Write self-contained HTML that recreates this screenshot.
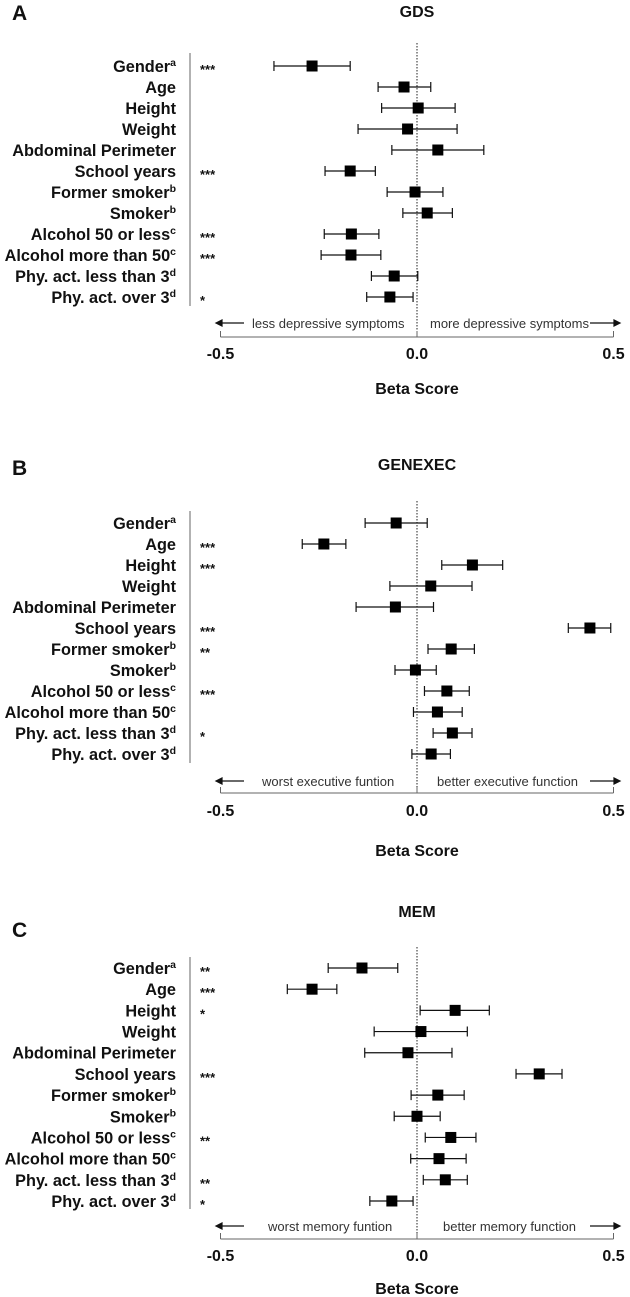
<!DOCTYPE html>
<html><head><meta charset="utf-8">
<style>
html,body{margin:0;padding:0;background:#fff;}
svg{display:block;font-family:"Liberation Sans",Arial,sans-serif;}
</style></head>
<body>
<svg id="fig" width="630" height="1297" viewBox="0 0 630 1297"></svg>
<script>
const categories = ["Gender","Age","Height","Weight","Abdominal Perimeter","School years","Former smoker","Smoker","Alcohol 50 or less","Alcohol more than 50","Phy. act. less than 3","Phy. act. over 3"];
const superscripts = ["a","","","","","","b","b","c","c","d","d"];
const tickValues = [-0.5, 0, 0.5];
const tickLabels = ["-0.5","0.0","0.5"];

const gdsBeta = [-0.267,-0.033,0.003,-0.024,0.053,-0.17,-0.005,0.026,-0.167,-0.168,-0.058,-0.069];
const gdsLow  = [-0.364,-0.099,-0.09,-0.15,-0.064,-0.234,-0.076,-0.036,-0.236,-0.244,-0.116,-0.128];
const gdsHigh = [-0.17,0.035,0.097,0.102,0.17,-0.106,0.066,0.09,-0.097,-0.092,0.002,-0.01];
const gdsStars = ["***","","","","","***","","","***","***","","*"];

const exeBeta = [-0.053,-0.237,0.141,0.035,-0.055,0.44,0.087,-0.004,0.076,0.052,0.09,0.036];
const exeLow  = [-0.132,-0.292,0.063,-0.069,-0.155,0.385,0.028,-0.056,0.019,-0.009,0.041,-0.013];
const exeHigh = [0.026,-0.181,0.218,0.14,0.042,0.493,0.146,0.049,0.133,0.115,0.14,0.085];
const exeStars = ["","***","***","","","***","**","","***","","*",""];

const memBeta = [-0.14,-0.267,0.097,0.01,-0.023,0.311,0.053,0,0.086,0.056,0.072,-0.064];
const memLow  = [-0.226,-0.33,0.008,-0.109,-0.133,0.252,-0.015,-0.058,0.021,-0.016,0.016,-0.12];
const memHigh = [-0.049,-0.204,0.184,0.128,0.089,0.369,0.12,0.059,0.15,0.125,0.128,-0.01];
const memStars = ["**","***","*","","","***","","","**","","**","*"];

const NS="http://www.w3.org/2000/svg";
const svg=document.getElementById('fig');
function mk(tag,attrs,parent){const e=document.createElementNS(NS,tag);for(const k in attrs)e.setAttribute(k,attrs[k]);(parent||svg).appendChild(e);return e;}
function xScale(v){return 417 + v*393;}

const panels=[
 {key:"gds",letter:"A",title:"GDS",beta:gdsBeta,low:gdsLow,high:gdsHigh,stars:gdsStars,titleY:17,letterY:20,row0:66,rowEnd:297,lineTop:53,lineBot:306,arrowY:328,axisY:337,tickY:359,betaY:394,left:"less depressive symptoms",right:"more depressive symptoms",lx:252,rx:430,rightArrowStart:590},
 {key:"genexec",letter:"B",title:"GENEXEC",beta:exeBeta,low:exeLow,high:exeHigh,stars:exeStars,titleY:470,letterY:475,row0:523,rowEnd:754,lineTop:511,lineBot:763,arrowY:786,axisY:793,tickY:816,betaY:856,left:"worst executive funtion",right:"better executive function",lx:262,rx:437,rightArrowStart:590},
 {key:"mem",letter:"C",title:"MEM",beta:memBeta,low:memLow,high:memHigh,stars:memStars,titleY:917,letterY:937,row0:968,rowEnd:1201,lineTop:957,lineBot:1209,arrowY:1231,axisY:1239,tickY:1261,betaY:1294,left:"worst memory funtion",right:"better memory function",lx:268,rx:443,rightArrowStart:590}
];

panels.forEach(p=>{
  const g=mk('g',{});
  
  
  const L=mk('text',{x:12,y:p.letterY,'font-size':21,'font-weight':'bold',fill:'#111'},g);
  L.textContent=p.letter;
  
  
  const T=mk('text',{x:417,y:p.titleY,'font-size':16,'font-weight':'bold','text-anchor':'middle',fill:'#111'},g);
  T.textContent=p.title;
  
  
  const vl=mk('line',{x1:190,x2:190,y1:p.lineTop,y2:p.lineBot,stroke:'#666','stroke-width':1},g);
  
  
  const zl=mk('line',{x1:xScale(0),x2:xScale(0),y1:p.lineTop-10,y2:p.axisY,stroke:'#222','stroke-width':1,'stroke-dasharray':'1.5,1.5'},g);
  
  
  const step=(p.rowEnd-p.row0)/(categories.length-1);
  categories.forEach((c,i)=>{
    const y=p.row0+i*step;
    const lab=mk('text',{x:176,y:y+6,'font-size':16.3,'font-weight':'bold','text-anchor':'end',fill:'#111'},g);
    lab.textContent=c;
    if(superscripts[i]){const s=mk('tspan',{'font-size':10.5,dy:-6},lab);s.textContent=superscripts[i];}
    
    
    if(p.stars[i]){
      const st=mk('text',{x:200,y:y+8,'font-size':13,'font-weight':'bold',fill:'#111'},g);
      st.textContent=p.stars[i];
      
      
    }
    const x1=xScale(p.low[i]),x2=xScale(p.high[i]),xc=xScale(p.beta[i]);
    const ci=mk('path',{d:`M${x1},${y}H${x2}M${x1},${y-5}V${y+5}M${x2},${y-5}V${y+5}`,stroke:'#111','stroke-width':1.2,fill:'none'},g);
    
    
    const sq=mk('rect',{x:xc-5.5,y:y-5.5,width:11,height:11,fill:'#000'},g);
    
    
  });
  const la=mk('path',{d:`M244,${p.arrowY-5}H216M216,${p.arrowY-5}l6,-3v6z`,stroke:'#111','stroke-width':1.2,fill:'#111'},g);
  
  
  const ra=mk('path',{d:`M${p.rightArrowStart},${p.arrowY-5}H620M620,${p.arrowY-5}l-6,-3v6z`,stroke:'#111','stroke-width':1.2,fill:'#111'},g);
  
  
  const lt=mk('text',{x:p.lx,y:p.arrowY,'font-size':13,fill:'#333'},g);
  lt.textContent=p.left;
  
  
  const rt=mk('text',{x:p.rx,y:p.arrowY,'font-size':13,fill:'#333'},g);
  rt.textContent=p.right;
  
  
  const ax=mk('line',{x1:xScale(-0.5),x2:xScale(0.5),y1:p.axisY,y2:p.axisY,stroke:'#666','stroke-width':1},g);
  
  
  tickValues.forEach((v,i)=>{
    const tk=mk('line',{x1:xScale(v),x2:xScale(v),y1:p.axisY-6,y2:p.axisY,stroke:'#666','stroke-width':1},g);
    
    
    const tl=mk('text',{x:xScale(v),y:p.tickY,'font-size':16,'font-weight':'bold','text-anchor':'middle',fill:'#111'},g);
    tl.textContent=tickLabels[i];
    
    
  });
  const bt=mk('text',{x:417,y:p.betaY,'font-size':16,'font-weight':'bold','text-anchor':'middle',fill:'#111'},g);
  bt.textContent="Beta Score";
  
  
});
</script>
</body></html>
